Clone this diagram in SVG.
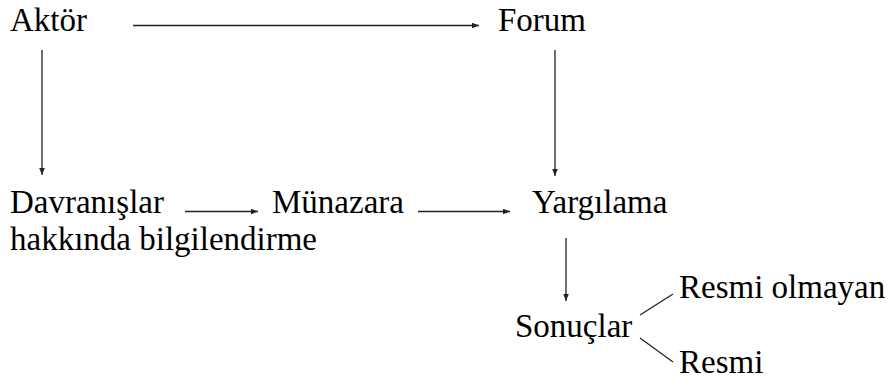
<svg xmlns="http://www.w3.org/2000/svg" width="893" height="383" viewBox="0 0 893 383">
<style>
text{font-family:"Liberation Serif","Times New Roman",serif;font-size:33px;fill:#000}
.c{stroke:#222;stroke-width:1.3;fill:none}
</style>
<defs>
<marker id="ah" viewBox="0 0 10 8" refX="10" refY="4" markerWidth="7" markerHeight="5.6" markerUnits="userSpaceOnUse" orient="auto">
<path d="M0,0 L10,4 L0,8 Z" fill="#222"/>
</marker>
</defs>
<rect width="893" height="383" fill="#fff"/>
<g id="aktor"><text x="10" y="31">Aktör</text></g>
<g id="forum"><text x="498" y="31">Forum</text></g>
<g id="davranislar"><text x="10" y="213">Davranışlar</text><text x="10" y="250">hakkında bilgilendirme</text></g>
<g id="munazara"><text x="272" y="213">Münazara</text></g>
<g id="yargilama"><text x="532" y="213">Yargılama</text></g>
<g id="sonuclar"><text x="515" y="337">Sonuçlar</text></g>
<g id="resmi-olmayan"><text x="679" y="298">Resmi olmayan</text></g>
<g id="resmi"><text x="679" y="373">Resmi</text></g>
<g id="connectors">
<line class="c" x1="133" y1="25.5" x2="479" y2="25.5" marker-end="url(#ah)"/>
<line class="c" x1="42" y1="50" x2="42" y2="175" marker-end="url(#ah)"/>
<line class="c" x1="555" y1="50" x2="555" y2="176" marker-end="url(#ah)"/>
<line class="c" x1="185" y1="211.5" x2="258" y2="211.5" marker-end="url(#ah)"/>
<line class="c" x1="418" y1="211.5" x2="510" y2="211.5" marker-end="url(#ah)"/>
<line class="c" x1="566" y1="238" x2="566" y2="301" marker-end="url(#ah)"/>
<line class="c" x1="640" y1="315" x2="673" y2="294"/>
<line class="c" x1="640" y1="338" x2="673" y2="362"/>
</g>
</svg>
